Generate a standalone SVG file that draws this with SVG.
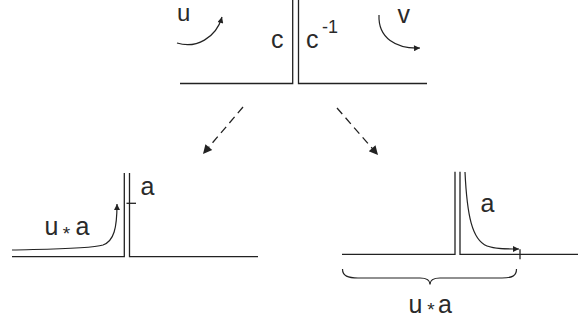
<svg xmlns="http://www.w3.org/2000/svg" width="579" height="321" viewBox="0 0 579 321">
<style>
.ln{fill:none;stroke:#222;stroke-width:1.3}
.cv{fill:none;stroke:#222;stroke-width:1.2}
.ds{fill:none;stroke:#222;stroke-width:1.3;stroke-dasharray:8 5}
.t{font-family:"Liberation Sans",Arial,sans-serif;font-size:25px;fill:#2a2a2a}
.sup{font-family:"Liberation Sans",Arial,sans-serif;font-size:18px;fill:#2a2a2a}
.st{font-family:"Liberation Sans",Arial,sans-serif;font-size:19px;fill:#2a2a2a;text-anchor:middle}
</style>
<defs>
<marker id="ah" viewBox="0 0 10 10" refX="10" refY="5" markerWidth="9" markerHeight="6" markerUnits="userSpaceOnUse" orient="auto">
<path d="M0,0 L10,5 L0,10 Z" fill="#222"/>
</marker>
<marker id="ahd" viewBox="0 0 10 10" refX="10" refY="5" markerWidth="11" markerHeight="9" markerUnits="userSpaceOnUse" orient="auto">
<path d="M0,0 L10,5 L0,10 Z" fill="#222"/>
</marker>
</defs>

<g id="top">
<path class="ln" d="M180,83.5 H292.7 V0"/>
<path class="ln" d="M298.5,0 V83.5 H427"/>
<path class="cv" d="M177,43 C196,49 216,38 222,17" marker-end="url(#ah)"/>
<path class="cv" d="M379,15 C378,38 396,49 420,48" marker-end="url(#ah)"/>
<text class="t" x="177" y="21" style="font-size:24px">u</text>
<text class="t" x="271" y="47.5">c</text>
<text class="t" x="306" y="47.5">c</text>
<text class="sup" x="322" y="33">-1</text>
<text class="t" x="397.5" y="22.5">v</text>
</g>

<g id="connectors">
<path class="ds" d="M243,107 L203,154" marker-end="url(#ahd)"/>
<path class="ds" d="M337,108 L378,155" marker-end="url(#ahd)"/>
</g>

<g id="bottom-left">
<path class="ln" d="M12,256.7 H124.3 V173"/>
<path class="ln" d="M129.5,173 V256.7 H258"/>
<path class="ln" d="M126.5,203.3 H136"/>
<path class="cv" d="M12,250 C50,249 90,249 103,245 C114,241 117,228 117,204" marker-end="url(#ah)"/>
<text class="t" x="140.5" y="195">a</text>
<text class="t" x="44.5" y="235">u</text>
<text class="st" x="66.5" y="239.5">*</text>
<text class="t" x="75.5" y="235">a</text>
</g>

<g id="bottom-right">
<path class="ln" d="M342,254.3 H455 V171.7"/>
<path class="ln" d="M460,171.7 V254.3 H578"/>
<path class="ln" d="M520,249.3 V259.3"/>
<path class="cv" d="M465,172 C467,215 472,240 487,246 C495,249 505,249 519,249" marker-end="url(#ah)"/>
<path class="cv" d="M342.5,269 C342.5,276 348,278 358,278 L420,278 C427,278 430,280 430,284.5 C430,280 433,278 440,278 L502,278 C512,278 516.5,276 516.5,269"/>
<text class="t" x="480.5" y="211.5">a</text>
<text class="t" x="408.5" y="313">u</text>
<text class="st" x="431" y="316">*</text>
<text class="t" x="438" y="313">a</text>
</g>
</svg>
